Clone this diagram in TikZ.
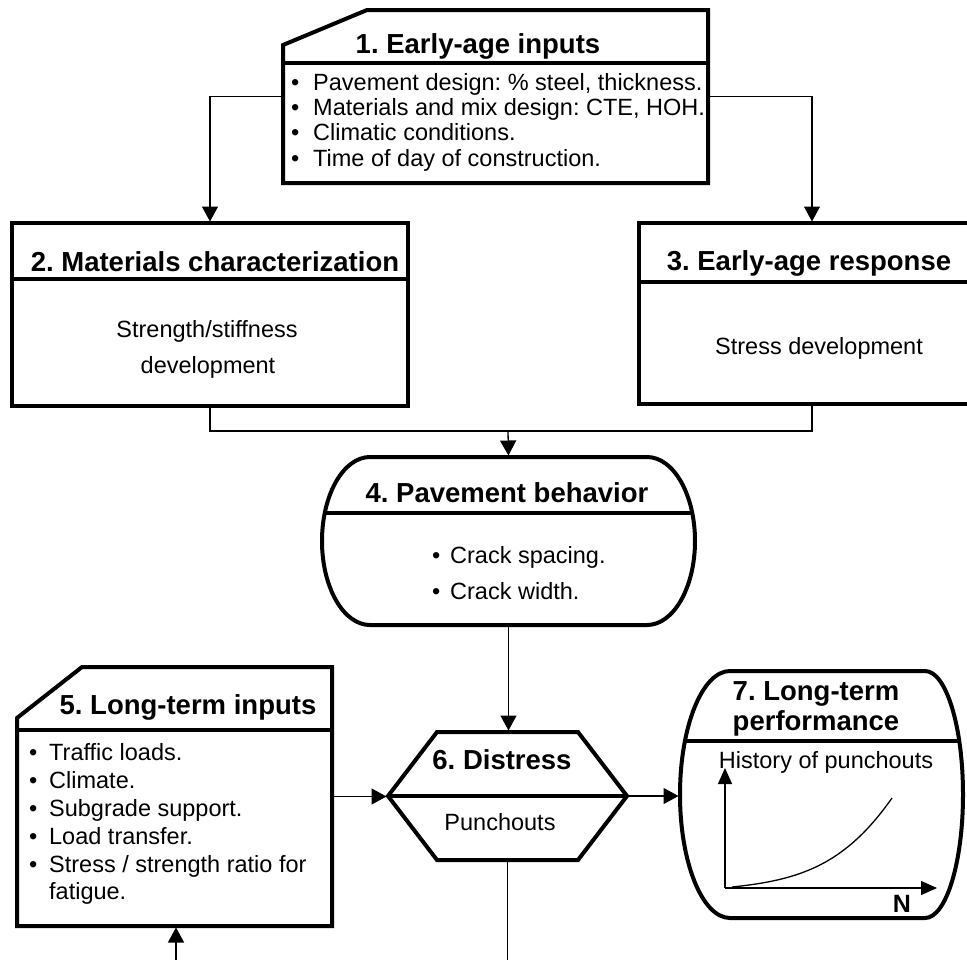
\documentclass[tikz,border=0pt]{standalone}
\usepackage{fontspec}
\setmainfont{Liberation Sans}
\usetikzlibrary{arrows.meta,calc}
\newcommand\bul[2]{\makebox[#1][l]{•}#2}
\frenchspacing
\begin{document}
\frenchspacing
\begin{tikzpicture}[x=1pt,y=-1pt,
  outline/.style={line width=4pt},
  sepline/.style={line width=3.5pt},
  conn/.style={line width=1.3pt},
  arr/.style={conn,-{Triangle[width=16pt,length=15pt]},shorten >=1.5pt},
  frame/.style={draw=none,inner sep=0pt,outer sep=0pt},
  ttl/.style={font=\fontsize{27.5}{30}\selectfont\bfseries,inner sep=0pt,anchor=base},
  bod/.style={font=\fontsize{23.5}{25}\selectfont,inner sep=0pt,anchor=base},
  bodw/.style={bod,anchor=base west},
]
\useasboundingbox (0,0) rectangle (967,959);
\clip (0,0) rectangle (967,959);

% ---------- frames (named) ----------
\node[frame,minimum width=425pt,minimum height=173pt] (b1) at (495.5,96.5) {};
\node[frame,draw,outline,minimum width=396pt,minimum height=183pt] (b2) at (210,314.5) {};
\node[frame,draw,outline,minimum width=346pt,minimum height=181pt] (b3) at (812,313.5) {};
\node[frame,minimum width=373pt,minimum height=168pt] (b4) at (508.5,541) {};
\node[frame,minimum width=315pt,minimum height=259pt] (b5) at (174.5,796.5) {};
\node[frame,minimum width=239pt,minimum height=128pt] (b6) at (507.5,796) {};
\node[frame,minimum width=283pt,minimum height=247pt] (b7) at (821.5,794.5) {};

% ---------- box 1 ----------
\draw[outline] ($(b1.north west)+(0,35)$) -- ($(b1.north west)+(84,0)$) -- (b1.north east)
  -- (b1.south east) -- (b1.south west) -- cycle;
\draw[sepline] ($(b1.north west)+(0,53)$) -- ($(b1.north east)+(0,53)$);
\node[ttl] (t1) at (478,53) {1. Early-age inputs};
\node[bodw] (l1a) at (291,90) {\bul{22pt}{Pavement design: \% steel, thickness.}};
\node[bodw] (l1b) at (291,115) {\bul{22pt}{Materials and mix design: CTE, HOH.}};
\node[bodw] (l1c) at (291,140) {\bul{22pt}{Climatic conditions.}};
\node[bodw] (l1d) at (291,166) {\bul{22pt}{Time of day of construction.}};

% ---------- box 2 ----------
\draw[sepline] ($(b2.north west)+(0,56)$) -- ($(b2.north east)+(0,56)$);
\node[ttl] (t2) at (215,271) {2. Materials characterization};
\node[bod] (l2a) at (207,337) {Strength/stiffness};
\node[bod] (l2b) at (208,373) {development};

% ---------- box 3 ----------
\draw[sepline] ($(b3.north west)+(0,59)$) -- ($(b3.north east)+(0,59)$);
\node[ttl] (t3) at (809,270) {3. Early-age response};
\node[bod] (l3a) at (819,354) {Stress development};

% ---------- box 4 ----------
\draw[outline] (370,457) -- (647,457)
  arc[start angle=-90,end angle=90,x radius=48,y radius=84]
  -- (370,625)
  arc[start angle=90,end angle=270,x radius=48,y radius=84] -- cycle;
\draw[sepline] (325,513) -- (692,513);
\node[ttl] (t4) at (507,502) {4. Pavement behavior};
\node[bodw] (l4a) at (432,563) {\bul{18pt}{Crack spacing.}};
\node[bodw] (l4b) at (432,599) {\bul{18pt}{Crack width.}};

% ---------- box 5 ----------
\draw[outline] ($(b5.north west)+(0,51)$) -- ($(b5.north west)+(65,0)$) -- (b5.north east)
  -- (b5.south east) -- (b5.south west) -- cycle;
\draw[sepline] ($(b5.north west)+(0,63)$) -- ($(b5.north east)+(0,63)$);
\node[ttl] (t5) at (188,714) {5. Long-term inputs};
\node[bodw] (l5a) at (29,760) {\bul{20pt}{Traffic loads.}};
\node[bodw] (l5b) at (29,788) {\bul{20pt}{Climate.}};
\node[bodw] (l5c) at (29,816) {\bul{20pt}{Subgrade support.}};
\node[bodw] (l5d) at (29,844) {\bul{20pt}{Load transfer.}};
\node[bodw] (l5e) at (29,872) {\bul{20pt}{Stress / strength ratio for}};
\node[bodw] (l5f) at (49,899) {fatigue.};

% ---------- box 6 ----------
\draw[outline] (437,732) -- (578,732) -- (b6.east) -- (578,860) -- (437,860) -- (b6.west) -- cycle;
\draw[sepline] (b6.west) -- (b6.east);
\node[ttl] (t6) at (502,769) {6. Distress};
\node[bod] (l6a) at (500,830) {Punchouts};

% ---------- box 7 ----------
\draw[outline] (730,671) -- (925,671)
  arc[start angle=-90,end angle=90,x radius=38,y radius=123.5]
  -- (730,918)
  arc[start angle=90,end angle=270,x radius=50,y radius=123.5] -- cycle;
\draw[sepline] (685,741) -- (959,741);
\node[ttl] (t7a) at (816,700) {7. Long-term};
\node[ttl] (t7b) at (816,730) {performance};
\node[bod] (l7a) at (826,768) {History of punchouts};
\coordinate (o7) at (725,888);
\coordinate (y7) at (725,768);
\coordinate (x7) at (937,888);
\draw[conn,-{Triangle[width=14pt,length=16pt]}] (o7) -- (y7);
\draw[conn,-{Triangle[width=14pt,length=16pt]}] (o7) -- (x7);
\draw[conn] (732,887) .. controls (800,880) and (845,865) .. (892,798);
\node[ttl,font=\fontsize{25}{28}\selectfont\bfseries] (n7) at (902,912) {N};

% ---------- connectors ----------
\draw[arr] (b1.west) -| (b2.north);
\draw[arr] (b1.east) -| (b3.north);
\coordinate (j) at (508,431);
\draw[conn] (b2.south) |- (j) -| (b3.south);
\draw[arr] (j) -- (b4.north);
\draw[arr] (b4.south) -- (b4.south |- b6.north);
\draw[arr] (b5.east) -- (b5.east -| b6.west);
\draw[arr] (b6.east) -- (b6.east -| b7.west);
\coordinate (e6) at (507.5,966);
\draw[conn] (b6.south) -- (e6);
\coordinate (e5) at (176,966);
\draw[arr] (e5) -- (e5 |- b5.south);
\end{tikzpicture}
\end{document}
